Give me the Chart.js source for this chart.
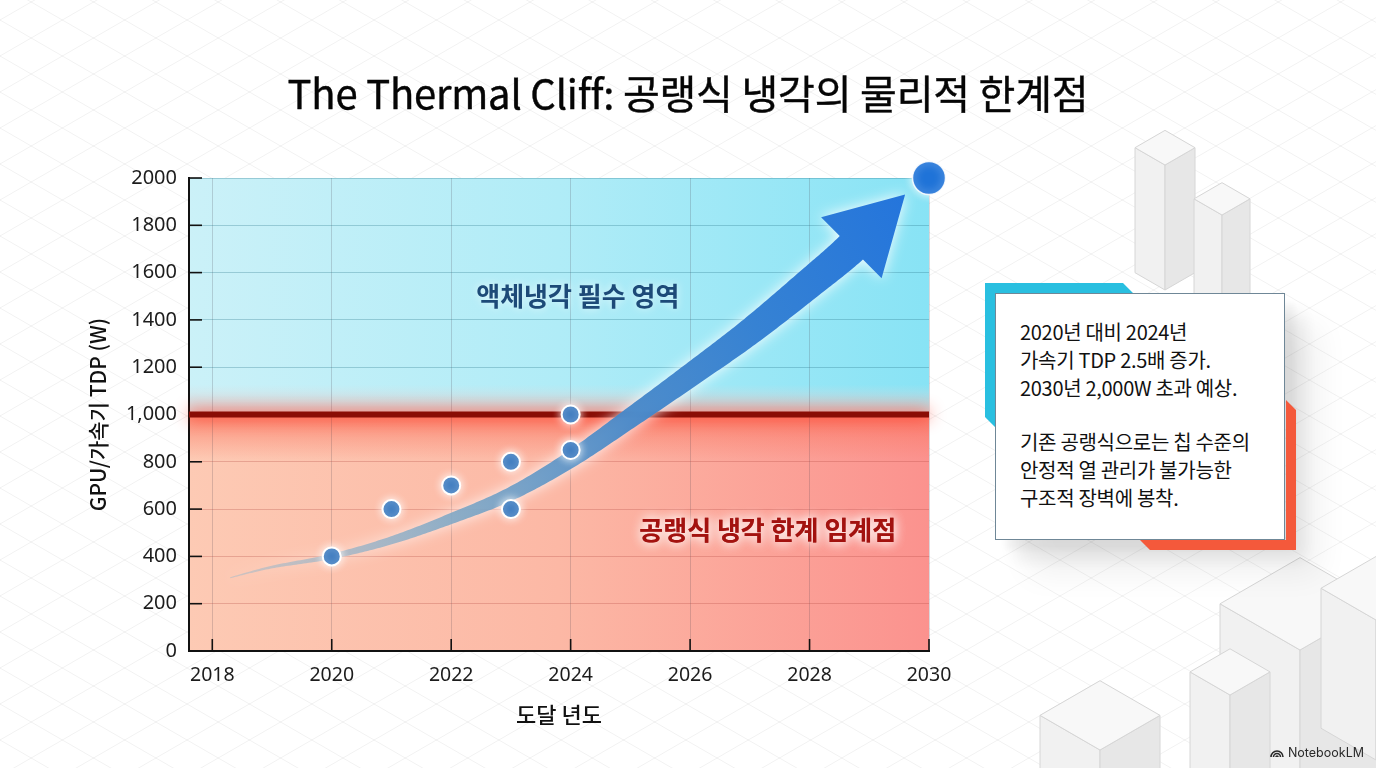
<!DOCTYPE html>
<html><head><meta charset="utf-8">
<script src="https://cdn.jsdelivr.net/npm/chart.js@4.4.1/dist/chart.umd.min.js"></script>
<style>
html,body{margin:0;padding:0;width:1376px;height:768px;overflow:hidden;background:#fff;font-family:"Noto Sans CJK KR","Noto Sans",sans-serif;}
#bg{position:absolute;left:0;top:0;z-index:0}
#wrap{position:absolute;left:0;top:0;width:1376px;height:768px;z-index:1}
h1{position:absolute;left:0;width:1376px;text-align:center;margin:0;top:68px;font-size:40px;font-weight:400;color:#050505;line-height:1.2;z-index:3;letter-spacing:-0.2px;-webkit-text-stroke:0.4px #050505}
#shadow{position:absolute;left:995px;top:293px;width:290px;height:247px;z-index:2;
 box-shadow:10px 10px 6px rgba(0,0,0,0.04),20px 20px 16px rgba(0,0,0,0.07),34px 34px 30px rgba(0,0,0,0.06);}
#accent{position:absolute;left:0;top:0;z-index:3}
#callout{position:absolute;left:995px;top:293px;width:290px;height:247px;box-sizing:border-box;background:#fff;border:1px solid #6f8797;z-index:4;
 padding:24px 0 0 24px;font-size:20px;line-height:28px;color:#111;letter-spacing:-0.3px}
#callout p{margin:0 0 26px 0}
#wm{position:absolute;right:12px;bottom:8px;font-family:"Inter","Noto Sans",sans-serif;font-size:12.5px;color:#2a2a2a;z-index:3;display:flex;align-items:center;gap:4px}
</style></head>
<body>
<canvas id="bg" width="1376" height="768"></canvas>
<h1>The Thermal Cliff: 공랭식 냉각의 물리적 한계점</h1>
<div id="wrap"><canvas id="c" width="1376" height="768"></canvas></div>
<div id="shadow"></div>
<svg id="accent" width="1376" height="768">
 <polygon points="985,283 1123,283 1133,293 995,293 995,427 985,417" fill="#29bfe0"/>
 <polygon points="1286,400 1296,410 1296,550 1150,550 1140,540 1286,540" fill="#f4593b"/>
</svg>
<div id="callout">
 <p>2020년 대비 2024년<br>가속기 TDP 2.5배 증가.<br>2030년 2,000W 초과 예상.</p>
 <p>기존 공랭식으로는 칩 수준의<br>안정적 열 관리가 불가능한<br>구조적 장벽에 봉착.</p>
</div>
<div id="wm"><svg width="14" height="11" viewBox="0 0 14 11"><path d="M1 10 A6 6 0 0 1 13 10 M3.5 10 A3.5 3.5 0 0 1 10.5 10 M6 10 A1 1 0 0 1 8 10" fill="none" stroke="#2a2a2a" stroke-width="1.6"/></svg>NotebookLM</div>
<script>
// ---- data ----
const xTickValues = [2018, 2020, 2022, 2024, 2026, 2028, 2030];
const yTickValues = [0, 200, 400, 600, 800, 1000, 1200, 1400, 1600, 1800, 2000];
const yTickLabels = ['0', '200', '400', '600', '800', '1,000', '1200', '1400', '1600', '1800', '2000'];
const measuredYears = [2020, 2021, 2022, 2023, 2023, 2024, 2024];
const measuredTdp   = [400, 600, 700, 800, 600, 1000, 850];
const projectedYears = [2030];
const projectedTdp   = [2000];
const trendYears = [2018.3, 2019, 2020, 2021, 2022, 2023, 2024, 2025, 2026, 2027, 2028, 2028.7, 2029.6];
const trendTdp   = [310, 355, 400, 468, 560, 665, 810, 985, 1165, 1350, 1555, 1705, 1930];
const thresholdTdp = 1000;
const xRange = [2017.61, 2030];
const yRange = [0, 2000];
const upperZoneLabel = '액체냉각 필수 영역';
const lowerZoneLabel = '공랭식 냉각 한계 임계점';

// ---- background decoration ----
(function(){
  const c = document.getElementById('bg'), g = c.getContext('2d');
  g.fillStyle = '#fff'; g.fillRect(0,0,1376,768);
  const t = Math.tan(Math.PI/6);
  g.strokeStyle = 'rgba(0,0,0,0.055)'; g.lineWidth = 1;
  for (let k = -1600; k < 2400; k += 36) {
    g.beginPath(); g.moveTo(0, k); g.lineTo(1376, k + 1376*t); g.stroke();
    g.beginPath(); g.moveTo(0, k); g.lineTo(1376, k - 1376*t); g.stroke();
  }
  function box(cx, by, w, h){
    const d = w*t;
    g.lineWidth = 1; g.strokeStyle = '#d6d6d6';
    g.fillStyle = '#f1f1f1';
    g.beginPath(); g.moveTo(cx-w, by-d); g.lineTo(cx, by); g.lineTo(cx, by-h); g.lineTo(cx-w, by-h-d); g.closePath(); g.fill(); g.stroke();
    g.fillStyle = '#e7e7e7';
    g.beginPath(); g.moveTo(cx+w, by-d); g.lineTo(cx, by); g.lineTo(cx, by-h); g.lineTo(cx+w, by-h-d); g.closePath(); g.fill(); g.stroke();
    g.fillStyle = '#f8f8f8';
    g.beginPath(); g.moveTo(cx, by-h); g.lineTo(cx-w, by-h-d); g.lineTo(cx, by-h-2*d); g.lineTo(cx+w, by-h-d); g.closePath(); g.fill(); g.stroke();
  }
  box(1165, 290, 30, 125);
  box(1222, 335, 28, 120);
  box(1300, 900, 80, 250);
  box(1376, 760, 55, 140);
  box(1100, 900, 60, 150);
  box(1230, 900, 40, 205);
})();

// ---- chart ----
const ctxC = document.getElementById('c').getContext('2d');

function catmull(pts, steps){
  const out = [];
  for (let i = 0; i < pts.length-1; i++){
    const p0 = pts[Math.max(0,i-1)], p1 = pts[i], p2 = pts[i+1], p3 = pts[Math.min(pts.length-1,i+2)];
    for (let s = 0; s < steps; s++){
      const u = s/steps, u2 = u*u, u3 = u2*u;
      out.push({
        x: 0.5*((2*p1.x) + (-p0.x+p2.x)*u + (2*p0.x-5*p1.x+4*p2.x-p3.x)*u2 + (-p0.x+3*p1.x-3*p2.x+p3.x)*u3),
        y: 0.5*((2*p1.y) + (-p0.y+p2.y)*u + (2*p0.y-5*p1.y+4*p2.y-p3.y)*u2 + (-p0.y+3*p1.y-3*p2.y+p3.y)*u3)
      });
    }
  }
  out.push(pts[pts.length-1]);
  return out;
}

const decor = {
  id: 'decor',
  beforeDraw(chart){
    const {ctx, chartArea: a, scales: {y}} = chart;
    const yT = y.getPixelForValue(thresholdTdp);
    ctx.save();
    let g = ctx.createLinearGradient(a.left, 0, a.right, 0);
    g.addColorStop(0, '#cbf1f8'); g.addColorStop(0.5, '#b0ecf7'); g.addColorStop(1, '#88e3f5');
    ctx.fillStyle = g; ctx.fillRect(a.left, a.top, a.right-a.left, yT-a.top);
    g = ctx.createLinearGradient(a.left, 0, a.right, 0);
    g.addColorStop(0, '#fdcab4'); g.addColorStop(0.5, '#fcb8a5'); g.addColorStop(1, '#fb928e');
    ctx.fillStyle = g; ctx.fillRect(a.left, yT, a.right-a.left, a.bottom-yT);
    g = ctx.createLinearGradient(0, yT-30, 0, yT);
    g.addColorStop(0, 'rgba(225,215,215,0)'); g.addColorStop(1, 'rgba(230,200,196,0.9)');
    ctx.fillStyle = g; ctx.fillRect(a.left, yT-30, a.right-a.left, 30);
    g = ctx.createLinearGradient(0, yT, 0, yT+45);
    g.addColorStop(0, 'rgba(250,110,88,0.7)'); g.addColorStop(1, 'rgba(250,120,100,0)');
    ctx.fillStyle = g; ctx.fillRect(a.left, yT, a.right-a.left, 45);
    ctx.restore();
  },
  beforeDatasetsDraw(chart){
    const {ctx, chartArea: a, scales: {x, y}} = chart;
    const yT = y.getPixelForValue(thresholdTdp);
    ctx.save();
    ctx.strokeStyle = '#111'; ctx.lineWidth = 1.6;
    y.ticks.forEach(t => { const py = y.getPixelForValue(t.value); ctx.beginPath(); ctx.moveTo(a.left, py); ctx.lineTo(a.left+13, py); ctx.stroke(); });
    x.ticks.forEach(t => { const px = x.getPixelForValue(t.value); ctx.beginPath(); ctx.moveTo(px, a.bottom); ctx.lineTo(px, a.bottom-12); ctx.stroke(); });
    ctx.shadowColor = 'rgba(255,40,20,0.9)'; ctx.shadowBlur = 16;
    ctx.strokeStyle = '#8a0d05'; ctx.lineWidth = 6;
    ctx.beginPath(); ctx.moveTo(a.left, yT); ctx.lineTo(a.right, yT); ctx.stroke();
    ctx.shadowBlur = 0;
    ctx.textAlign = 'center'; ctx.textBaseline = 'middle';
    ctx.font = '700 26px "Noto Sans CJK KR"';
    ctx.shadowColor = 'rgba(255,255,255,0.7)'; ctx.shadowBlur = 8;
    ctx.fillStyle = '#1d4a78';
    ctx.fillText(upperZoneLabel, x.getPixelForValue(2024.12), y.getPixelForValue(1500));
    ctx.shadowColor = 'rgba(255,255,255,1)'; ctx.shadowBlur = 12;
    ctx.fillStyle = '#a3120f';
    ctx.fillText(lowerZoneLabel, x.getPixelForValue(2027.3), y.getPixelForValue(512));
    ctx.fillText(lowerZoneLabel, x.getPixelForValue(2027.3), y.getPixelForValue(512));
    const pts = trendYears.map((v, i) => ({x: x.getPixelForValue(v), y: y.getPixelForValue(trendTdp[i])}));
    const s = catmull(pts, 24);
    const cum = [0];
    for (let i = 1; i < s.length; i++) cum.push(cum[i-1] + Math.hypot(s[i].x-s[i-1].x, s[i].y-s[i-1].y));
    const L = cum[cum.length-1], headLen = 76, shaftL = L - headLen;
    let bi = cum.findIndex(v => v >= shaftL);
    const B = s[bi], T = s[s.length-1];
    let dx = T.x-B.x, dy = T.y-B.y; const dl = Math.hypot(dx, dy); dx/=dl; dy/=dl;
    const nx = dy, ny = -dx;
    const leftE = [], rightE = [];
    for (let i = 0; i <= bi; i++){
      const p = s[i], q = s[Math.min(i+1, s.length-1)], r = s[Math.max(i-1, 0)];
      let tx = q.x-r.x, ty = q.y-r.y; const tl = Math.hypot(tx, ty) || 1; tx/=tl; ty/=tl;
      let mx = ty, my = -tx;
      if (i === bi){ mx = nx; my = ny; }
      const f = cum[i]/shaftL;
      const hw = 0.5 + 16*Math.pow(f, 1.05);
      leftE.push({x: p.x + mx*hw, y: p.y + my*hw});
      rightE.push({x: p.x - mx*hw, y: p.y - my*hw});
    }
    ctx.beginPath();
    ctx.moveTo(leftE[0].x, leftE[0].y);
    leftE.forEach(p => ctx.lineTo(p.x, p.y));
    ctx.lineTo(B.x + nx*43, B.y + ny*43);
    ctx.lineTo(T.x, T.y);
    ctx.lineTo(B.x - nx*43, B.y - ny*43);
    for (let i = rightE.length-1; i >= 0; i--) ctx.lineTo(rightE[i].x, rightE[i].y);
    ctx.closePath();
    const ag = ctx.createLinearGradient(pts[0].x, pts[0].y, T.x, T.y);
    ag.addColorStop(0, 'rgba(150,185,205,0.45)');
    ag.addColorStop(0.3, 'rgba(118,163,196,0.85)');
    ag.addColorStop(0.55, 'rgba(70,135,200,0.95)');
    ag.addColorStop(0.75, '#3682d3');
    ag.addColorStop(1, '#2475dc');
    ctx.shadowColor = 'rgba(255,255,255,0.95)'; ctx.shadowBlur = 14;
    ctx.fillStyle = ag; ctx.fill();
    ctx.restore();
  },
  beforeDatasetDraw(chart){
    chart.ctx.save();
    chart.ctx.shadowColor = 'rgba(255,255,255,0.95)';
    chart.ctx.shadowBlur = 9;
  },
  afterDatasetDraw(chart){ chart.ctx.restore(); }
};

new Chart(ctxC, {
  type: 'scatter',
  data: {
    datasets: [
      {
        label: '측정값',
        data: measuredYears.map((v, i) => ({x: v, y: measuredTdp[i]})),
        pointRadius: 9, pointHoverRadius: 9,
        backgroundColor: '#2d70ba', borderColor: '#ffffff', borderWidth: 2,
        clip: false
      },
      {
        label: '2030 예상',
        data: projectedYears.map((v, i) => ({x: v, y: projectedTdp[i]})),
        pointRadius: 16.5, pointHoverRadius: 16.5,
        backgroundColor: '#1f73d8', borderColor: 'rgba(255,255,255,0.85)', borderWidth: 1.5,
        clip: false
      }
    ]
  },
  options: {
    responsive: false,
    animation: false,
    events: [],
    layout: {padding: {left: 58, right: 447, top: 178, bottom: 30}},
    plugins: {legend: {display: false}, tooltip: {enabled: false}},
    scales: {
      x: {
        type: 'linear', min: xRange[0], max: xRange[1],
        afterFit(s){ s.height = 87; },
        afterBuildTicks(s){ s.ticks = xTickValues.map(v => ({value: v})); },
        border: {display: true, color: '#111', width: 2},
        grid: {color: 'rgba(70,60,75,0.2)', lineWidth: 1, drawTicks: false},
        ticks: {padding: 13, color: '#1c1c1c', font: {family: '"Noto Sans", sans-serif', size: 19.5}, callback: v => String(v), maxRotation: 0, autoSkip: false},
        title: {display: true, text: '도달 년도', color: '#111', font: {family: '"Noto Sans CJK KR"', size: 22, weight: '500'}, padding: {top: 0, bottom: 10}}
      },
      y: {
        type: 'linear', min: yRange[0], max: yRange[1],
        afterFit(s){ s.width = 131; },
        afterBuildTicks(s){ s.ticks = yTickValues.map(v => ({value: v})); },
        border: {display: true, color: '#111', width: 2},
        grid: {color: c => (c.tick && c.tick.value >= thresholdTdp) ? 'rgba(40,115,135,0.3)' : 'rgba(175,70,60,0.28)', lineWidth: 1, drawTicks: false},
        ticks: {padding: 12, color: '#1c1c1c', font: {family: '"Noto Sans", sans-serif', size: 20},
          callback: (v) => { const i = yTickValues.indexOf(v); return i >= 0 ? yTickLabels[i] : ''; }},
        title: {display: true, text: 'GPU/가속기 TDP (W)', color: '#111', font: {family: '"Noto Sans CJK KR"', size: 21, weight: '500'}, padding: {top: 27, bottom: 0}}
      }
    }
  },
  plugins: [decor]
});
</script>
</body></html>
